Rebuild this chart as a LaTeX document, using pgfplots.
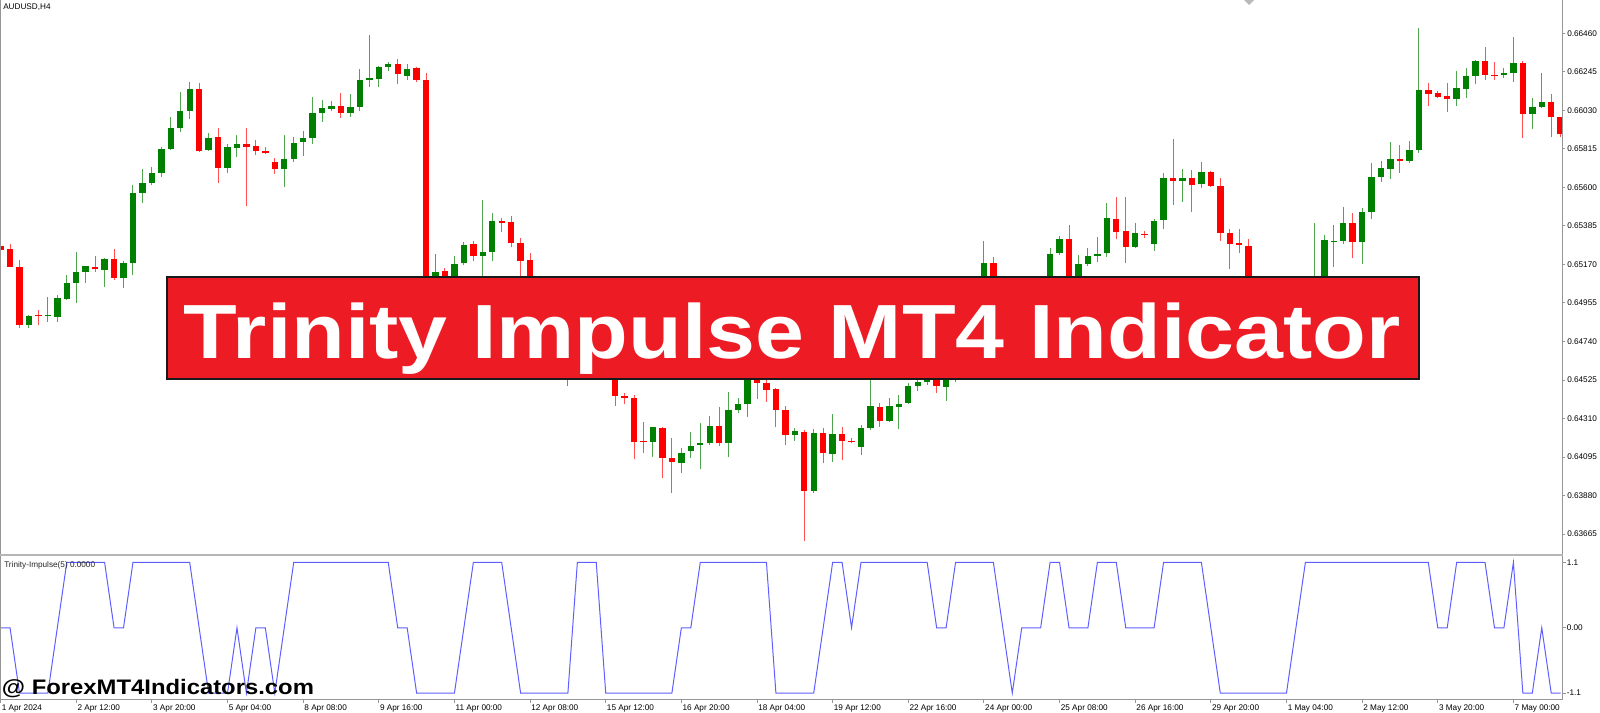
\documentclass[border=0pt]{standalone}
\usepackage{graphicx}
\usepackage{pgfplots}
\usepackage{pgfplotstable}
\usepackage{fontspec}
\setmainfont{Liberation Sans}
\pgfplotsset{compat=1.18}

% MT4 colours
\definecolor{bull}{RGB}{0,128,0}
\definecolor{bear}{RGB}{255,0,0}
\definecolor{bullwick}{RGB}{80,165,80}
\definecolor{bearwick}{RGB}{255,80,80}
\definecolor{impulse}{RGB}{95,95,255}
\definecolor{banner}{RGB}{237,28,36}
\definecolor{frame}{RGB}{150,150,150}

% 1 px of the screenshot = 0.75pt
\tikzset{mtfont/.style={font=\fontsize{6.15pt}{7pt}\selectfont}}

% AUDUSD H4 candles: bar index, open, high, low, close, up (1) / down (0)
\pgfplotstableread{
i o h l c d
0 0.65273 0.65288 0.65241 0.65251 0
1 0.65254 0.65284 0.65154 0.65157 0
2 0.65157 0.65195 0.64813 0.64832 0
3 0.64832 0.64888 0.64817 0.64884 1
4 0.64884 0.64916 0.64832 0.64880 0
5 0.64880 0.64990 0.64850 0.64884 1
6 0.64878 0.64999 0.64850 0.64981 1
7 0.64977 0.65111 0.64971 0.65065 1
8 0.65068 0.65238 0.64956 0.65129 1
9 0.65129 0.65164 0.65068 0.65161 1
10 0.65157 0.65217 0.65129 0.65143 0
11 0.65139 0.65204 0.65046 0.65200 1
12 0.65200 0.65254 0.65083 0.65096 0
13 0.65096 0.65189 0.65037 0.65180 1
14 0.65180 0.65613 0.65109 0.65570 1
15 0.65570 0.65701 0.65511 0.65626 1
16 0.65623 0.65712 0.65613 0.65679 1
17 0.65682 0.65827 0.65660 0.65814 1
18 0.65813 0.65991 0.65809 0.65930 1
19 0.65930 0.66134 0.65911 0.66026 1
20 0.66026 0.66190 0.65980 0.66149 1
21 0.66148 0.66184 0.65799 0.65805 0
22 0.65809 0.65902 0.65805 0.65877 1
23 0.65880 0.65933 0.65626 0.65707 0
24 0.65710 0.65841 0.65682 0.65824 1
25 0.65820 0.65892 0.65771 0.65844 1
26 0.65842 0.65930 0.65496 0.65827 0
27 0.65833 0.65865 0.65779 0.65805 0
28 0.65803 0.65827 0.65786 0.65792 0
29 0.65743 0.65762 0.65675 0.65701 0
30 0.65701 0.65892 0.65600 0.65757 1
31 0.65758 0.65883 0.65740 0.65849 1
32 0.65852 0.65915 0.65777 0.65874 1
33 0.65874 0.66103 0.65842 0.66014 1
34 0.66014 0.66088 0.65967 0.66041 1
35 0.66039 0.66082 0.66026 0.66054 1
36 0.66054 0.66125 0.65986 0.66014 0
37 0.66017 0.66121 0.65991 0.66050 1
38 0.66050 0.66259 0.66026 0.66199 1
39 0.66199 0.66451 0.66162 0.66209 1
40 0.66205 0.66276 0.66162 0.66274 1
41 0.66274 0.66302 0.66251 0.66289 1
42 0.66287 0.66317 0.66175 0.66231 0
43 0.66223 0.66289 0.66199 0.66261 1
44 0.66265 0.66274 0.66190 0.66199 0
45 0.66199 0.66240 0.64999 0.65027 0
46 0.65027 0.65228 0.64994 0.65126 1
47 0.65133 0.65148 0.65016 0.65055 0
48 0.65055 0.65217 0.65027 0.65172 1
49 0.65176 0.65297 0.65167 0.65278 1
50 0.65282 0.65301 0.65189 0.65217 0
51 0.65219 0.65530 0.65102 0.65238 1
52 0.65238 0.65459 0.65189 0.65412 1
53 0.65411 0.65431 0.65353 0.65403 0
54 0.65408 0.65440 0.65269 0.65288 0
55 0.65288 0.65316 0.65102 0.65191 0
56 0.65195 0.65232 0.64999 0.65027 0
57 0.65027 0.65094 0.64983 0.65072 1
58 0.65066 0.65083 0.64888 0.64916 0
59 0.64916 0.64944 0.64625 0.64664 0
60 0.64648 0.64759 0.64491 0.64737 1
61 0.64737 0.64776 0.64637 0.64682 0
62 0.64682 0.64704 0.64569 0.64609 0
63 0.64609 0.64692 0.64581 0.64664 1
64 0.64659 0.64682 0.64536 0.64558 0
65 0.64558 0.64581 0.64380 0.64435 0
66 0.64437 0.64454 0.64391 0.64426 0
67 0.64423 0.64441 0.64082 0.64180 0
68 0.64183 0.64289 0.64119 0.64179 0
69 0.64180 0.64264 0.64097 0.64261 1
70 0.64255 0.64264 0.63976 0.64088 0
71 0.64088 0.64199 0.63896 0.64069 0
72 0.64063 0.64144 0.64004 0.64119 1
73 0.64128 0.64236 0.64088 0.64158 1
74 0.64162 0.64283 0.64026 0.64172 1
75 0.64172 0.64324 0.64162 0.64268 1
76 0.64268 0.64373 0.64158 0.64172 0
77 0.64175 0.64460 0.64093 0.64357 1
78 0.64357 0.64423 0.64339 0.64389 1
79 0.64389 0.64609 0.64320 0.64569 1
80 0.64553 0.64592 0.64417 0.64510 0
81 0.64510 0.64547 0.64404 0.64469 0
82 0.64473 0.64479 0.64261 0.64357 0
83 0.64357 0.64380 0.64162 0.64218 0
84 0.64218 0.64255 0.64186 0.64242 1
85 0.64235 0.64246 0.63626 0.63905 0
86 0.63907 0.64250 0.63894 0.64231 1
87 0.64227 0.64255 0.64060 0.64116 0
88 0.64112 0.64333 0.64069 0.64222 1
89 0.64223 0.64264 0.64078 0.64186 0
90 0.64186 0.64199 0.64172 0.64179 0
91 0.64149 0.64274 0.64106 0.64255 1
92 0.64255 0.64525 0.64246 0.64380 1
93 0.64376 0.64398 0.64264 0.64298 0
94 0.64298 0.64423 0.64292 0.64380 1
95 0.64376 0.64441 0.64250 0.64391 1
96 0.64395 0.64506 0.64391 0.64493 1
97 0.64493 0.64529 0.64465 0.64512 1
98 0.64512 0.64581 0.64497 0.64553 1
99 0.64553 0.64569 0.64454 0.64491 0
100 0.64487 0.64569 0.64409 0.64536 1
101 0.64536 0.64664 0.64512 0.64637 1
102 0.64637 0.64832 0.64609 0.64804 1
103 0.64804 0.65027 0.64776 0.64971 1
104 0.64971 0.65301 0.64944 0.65180 1
105 0.65176 0.65213 0.64983 0.65027 0
106 0.65027 0.65055 0.64871 0.64916 0
107 0.64916 0.64971 0.64776 0.64832 0
108 0.64832 0.64983 0.64804 0.64944 1
109 0.64944 0.65038 0.64888 0.64999 1
110 0.64999 0.65094 0.64971 0.65055 1
111 0.65055 0.65260 0.65027 0.65228 1
112 0.65232 0.65329 0.65223 0.65310 1
113 0.65310 0.65390 0.65055 0.65083 0
114 0.65083 0.65223 0.65066 0.65171 1
115 0.65171 0.65260 0.65161 0.65219 1
116 0.65219 0.65325 0.65185 0.65228 1
117 0.65232 0.65511 0.65213 0.65427 1
118 0.65424 0.65545 0.65310 0.65353 0
119 0.65355 0.65545 0.65176 0.65269 0
120 0.65269 0.65400 0.65260 0.65344 1
121 0.65338 0.65358 0.65316 0.65334 0
122 0.65284 0.65422 0.65247 0.65414 1
123 0.65418 0.65682 0.65366 0.65654 1
124 0.65651 0.65868 0.65502 0.65637 0
125 0.65634 0.65702 0.65520 0.65654 1
126 0.65654 0.65697 0.65464 0.65613 0
127 0.65619 0.65740 0.65598 0.65684 1
128 0.65685 0.65694 0.65604 0.65608 0
129 0.65608 0.65651 0.65302 0.65344 0
130 0.65344 0.65366 0.65143 0.65284 0
131 0.65288 0.65366 0.65235 0.65278 0
132 0.65275 0.65310 0.64944 0.64971 0
133 0.64971 0.64999 0.64804 0.64860 0
134 0.64860 0.64944 0.64815 0.64916 1
135 0.64904 0.64927 0.64720 0.64776 0
136 0.64776 0.64804 0.64637 0.64692 0
137 0.64692 0.64832 0.64648 0.64804 1
138 0.64804 0.64971 0.64776 0.64916 1
139 0.64916 0.65400 0.64888 0.65027 1
140 0.65027 0.65334 0.64999 0.65306 1
141 0.65297 0.65390 0.65157 0.65302 1
142 0.65302 0.65489 0.65284 0.65400 1
143 0.65400 0.65455 0.65204 0.65293 0
144 0.65293 0.65483 0.65172 0.65464 1
145 0.65464 0.65738 0.65422 0.65656 1
146 0.65656 0.65749 0.65632 0.65707 1
147 0.65701 0.65852 0.65645 0.65757 1
148 0.65757 0.65837 0.65682 0.65747 0
149 0.65749 0.65861 0.65734 0.65809 1
150 0.65809 0.66491 0.65794 0.66144 1
151 0.66144 0.66181 0.66054 0.66121 0
152 0.66125 0.66138 0.66097 0.66103 0
153 0.66112 0.66181 0.66019 0.66092 0
154 0.66092 0.66250 0.66054 0.66153 1
155 0.66149 0.66268 0.66097 0.66222 1
156 0.66222 0.66311 0.66175 0.66306 1
157 0.66307 0.66385 0.66199 0.66227 0
158 0.66227 0.66302 0.66199 0.66222 0
159 0.66227 0.66265 0.66212 0.66240 1
160 0.66237 0.66441 0.66190 0.66296 1
161 0.66296 0.66306 0.65874 0.66010 0
162 0.66010 0.66101 0.65924 0.66047 1
163 0.66047 0.66240 0.66041 0.66075 1
164 0.66075 0.66121 0.65883 0.65991 0
165 0.65991 0.65995 0.65883 0.65898 0
}\bars

\begin{document}
\begin{tikzpicture}
\useasboundingbox (0,0) rectangle (1200pt,-534.75pt);

% price panel
\begin{axis}[
  at={(0.45pt,-415.5pt)}, anchor=south west,
  scale only axis, width=1171.05pt, height=415.5pt,
  xmin=0, xmax=165.14, ymin=0.63554, ymax=0.66646,
  axis line style={draw=none},
  xtick=\empty,
  ytick={0.63665,0.63880,0.64095,0.64310,0.64525,0.64740,0.64955,0.65170,0.65385,0.65600,0.65815,0.66030,0.66245,0.66460},
  yticklabels={0.63665,0.63880,0.64095,0.64310,0.64525,0.64740,0.64955,0.65170,0.65385,0.65600,0.65815,0.66030,0.66245,0.66460},
  ytick pos=right, yticklabel pos=right,
  tick align=outside, major tick length=2.25pt,
  tick style={frame, line width=0.75pt},
  yticklabel style={mtfont, text=black, anchor=west, inner sep=0pt, xshift=1.5pt},
]
% wicks (high-low), then bodies (open-close); the d column picks the colour
\addplot[bullwick, line width=0.75pt, forget plot,
  quiver={u=0, v={\thisrow{d}*(\thisrow{h}-\thisrow{l})}}]
  table[x=i, y=l] {\bars};
\addplot[bearwick, line width=0.75pt, forget plot,
  quiver={u=0, v={(1-\thisrow{d})*(\thisrow{h}-\thisrow{l})}}]
  table[x=i, y=l] {\bars};
\addplot[bull, line width=4.8pt, forget plot,
  quiver={u=0, v={\thisrow{d}*max(abs(\thisrow{c}-\thisrow{o}),0.00006)}}]
  table[x=i, y expr={min(\thisrow{o},\thisrow{c})}] {\bars};
\addplot[bear, line width=4.8pt, forget plot,
  quiver={u=0, v={(1-\thisrow{d})*max(abs(\thisrow{c}-\thisrow{o}),0.00006)}}]
  table[x=i, y expr={min(\thisrow{o},\thisrow{c})}] {\bars};
\end{axis}

% Trinity Impulse panel
\begin{axis}[
  at={(0.45pt,-524.25pt)}, anchor=south west,
  scale only axis, width=1171.05pt, height=106.875pt,
  xmin=0, xmax=165.14, ymin=-1.2, ymax=1.2,
  axis line style={draw=none},
  xtick={0,8,...,160},
  xticklabels={1 Apr 2024,2 Apr 12:00,3 Apr 20:00,5 Apr 04:00,8 Apr 08:00,9 Apr 16:00,11 Apr 00:00,12 Apr 08:00,15 Apr 12:00,16 Apr 20:00,18 Apr 04:00,19 Apr 12:00,22 Apr 16:00,24 Apr 00:00,25 Apr 08:00,26 Apr 16:00,29 Apr 20:00,1 May 04:00,2 May 12:00,3 May 20:00,7 May 00:00},
  ytick={-1.1,0,1.1}, yticklabels={-1.1,0.00,1.1},
  xtick pos=bottom, xticklabel pos=bottom,
  ytick pos=right, yticklabel pos=right,
  tick align=outside, major tick length=3pt,
  tick style={frame, line width=0.75pt},
  yticklabel style={mtfont, text=black, anchor=west, inner sep=0pt, xshift=0.4pt},
  xticklabel style={mtfont, text=black, anchor=base west, inner sep=0pt, xshift=0.75pt, yshift=-5.25pt},
]
\addplot[impulse, line width=0.75pt] coordinates {
(0,0)(1,0)(2,-1.1)(3,-1.1)(4,-1.1)(5,-1.1)(6,0)(7,1.1)(8,1.1)(9,1.1)
(10,1.1)(11,1.1)(12,0)(13,0)(14,1.1)(15,1.1)(16,1.1)(17,1.1)(18,1.1)(19,1.1)
(20,1.1)(21,0)(22,-1.1)(23,-1.1)(24,-1.1)(25,0)(26,-1.1)(27,0)(28,0)(29,-1.1)
(30,0)(31,1.1)(32,1.1)(33,1.1)(34,1.1)(35,1.1)(36,1.1)(37,1.1)(38,1.1)(39,1.1)
(40,1.1)(41,1.1)(42,0)(43,0)(44,-1.1)(45,-1.1)(46,-1.1)(47,-1.1)(48,-1.1)(49,0)
(50,1.1)(51,1.1)(52,1.1)(53,1.1)(54,0)(55,-1.1)(56,-1.1)(57,-1.1)(58,-1.1)(59,-1.1)
(60,-1.1)(61,1.1)(62,1.1)(63,1.1)(64,-1.1)(65,-1.1)(66,-1.1)(67,-1.1)(68,-1.1)(69,-1.1)
(70,-1.1)(71,-1.1)(72,0)(73,0)(74,1.1)(75,1.1)(76,1.1)(77,1.1)(78,1.1)(79,1.1)
(80,1.1)(81,1.1)(82,-1.1)(83,-1.1)(84,-1.1)(85,-1.1)(86,-1.1)(87,0)(88,1.1)(89,1.1)
(90,0)(91,1.1)(92,1.1)(93,1.1)(94,1.1)(95,1.1)(96,1.1)(97,1.1)(98,1.1)(99,0)
(100,0)(101,1.1)(102,1.1)(103,1.1)(104,1.1)(105,1.1)(106,0)(107,-1.1)(108,0)(109,0)
(110,0)(111,1.1)(112,1.1)(113,0)(114,0)(115,0)(116,1.1)(117,1.1)(118,1.1)(119,0)
(120,0)(121,0)(122,0)(123,1.1)(124,1.1)(125,1.1)(126,1.1)(127,1.1)(128,0)(129,-1.1)
(130,-1.1)(131,-1.1)(132,-1.1)(133,-1.1)(134,-1.1)(135,-1.1)(136,-1.1)(137,0)(138,1.1)(139,1.1)
(140,1.1)(141,1.1)(142,1.1)(143,1.1)(144,1.1)(145,1.1)(146,1.1)(147,1.1)(148,1.1)(149,1.1)
(150,1.1)(151,1.1)(152,0)(153,0)(154,1.1)(155,1.1)(156,1.1)(157,1.1)(158,0)(159,0)
(160,1.1)(161,-1.1)(162,-1.1)(163,0)(164,-1.1)(165,-1.1)
};
\end{axis}

% window frame
\draw[frame, line width=0.75pt] (0.5pt,0) -- (0.5pt,-524.25pt);
\draw[frame, line width=1.1pt] (1171.9pt,0) -- (1171.9pt,-524.25pt);
\draw[frame!70, line width=1.5pt] (0,-416.2pt) -- (1171.9pt,-416.2pt);
\draw[frame, line width=0.75pt] (0,-524.25pt) -- (1171.9pt,-524.25pt);
\fill[gray!55] (933pt,0) -- (940.5pt,0) -- (936.75pt,-3.75pt) -- cycle;

\node[mtfont, anchor=base west, inner sep=0pt] at (2.25pt,-7.5pt) {AUDUSD,H4};
\node[mtfont, anchor=base west, inner sep=0pt, text=black!85] at (3pt,-425.25pt) {Trinity-Impulse(5) 0.0000};

% banner
\filldraw[fill=banner, draw=black!90, line width=1.5pt] (125pt,-207.5pt) rectangle (1064.5pt,-284.5pt);
\node[anchor=base, inner sep=0pt, text=white] at (594.2pt,-268.7pt)
  {\scalebox{1.145}[1]{\fontsize{57.6pt}{60pt}\selectfont\bfseries Trinity Impulse MT4 Indicator}};

% watermark
\node[anchor=base west, inner sep=0pt, text=black] at (1.3pt,-520.7pt)
  {\scalebox{1.135}[1]{\fontsize{15.75pt}{17pt}\selectfont\bfseries @ ForexMT4Indicators.com}};
\end{tikzpicture}
\end{document}
